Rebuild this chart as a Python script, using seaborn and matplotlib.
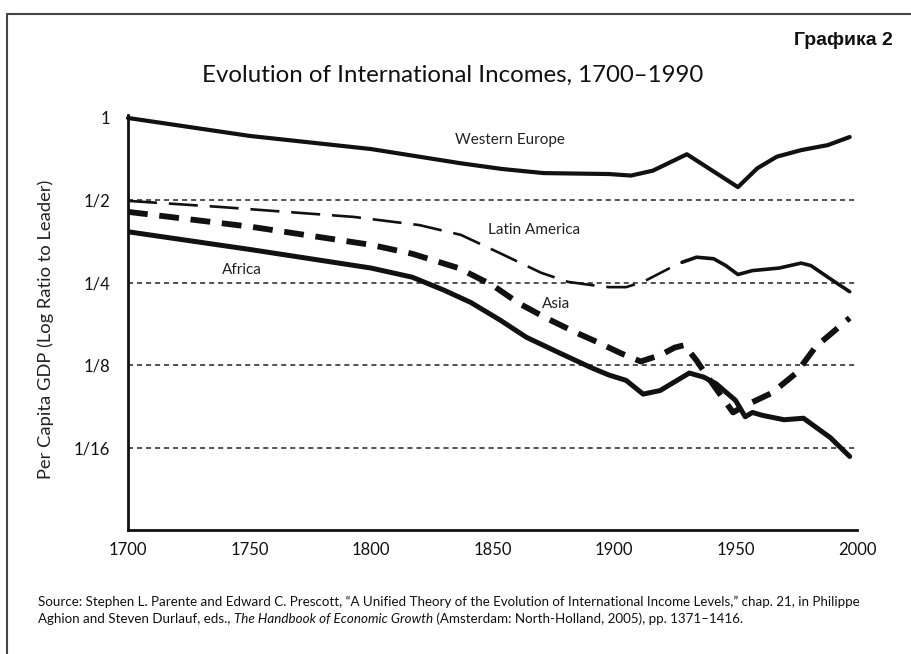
import numpy as np
import pandas as pd
import seaborn as sns
import matplotlib.pyplot as plt
from matplotlib.lines import Line2D
from matplotlib.ticker import FixedLocator, NullLocator

# ratio of per capita GDP to the leader
we_years = [1700, 1750, 1800, 1837, 1854, 1871, 1898, 1907, 1916, 1930, 1951, 1959, 1967, 1977, 1988, 1997]
we_ratio = [1.0, 0.86, 0.77, 0.683, 0.651, 0.629, 0.624, 0.616, 0.642, 0.737, 0.559, 0.655, 0.722, 0.763, 0.796, 0.852]

la_years = [1700, 1738, 1793, 1820, 1837, 1853, 1870, 1881, 1891, 1898, 1905, 1912, 1923,
            1928, 1934, 1941, 1946, 1951, 1957, 1968, 1977, 1981, 1990, 1997]
la_ratio = [0.498, 0.473, 0.435, 0.406, 0.374, 0.321, 0.272, 0.252, 0.245, 0.241, 0.241, 0.252, 0.283,
            0.297, 0.310, 0.306, 0.289, 0.268, 0.277, 0.283, 0.295, 0.289, 0.255, 0.232]

asia_years = [1700, 1751, 1800, 1817, 1836, 1850, 1861, 1872, 1884, 1893, 1903, 1911, 1919,
              1925, 1929, 1934, 1938, 1949, 1954, 1965, 1975, 1983, 1997]
asia_ratio = [0.454, 0.400, 0.344, 0.319, 0.283, 0.245, 0.210, 0.186, 0.165, 0.152, 0.138, 0.129, 0.136,
              0.145, 0.148, 0.130, 0.115, 0.084, 0.089, 0.099, 0.117, 0.146, 0.186]

af_years = [1700, 1751, 1800, 1817, 1830, 1841, 1853, 1864, 1878, 1891, 1898, 1905, 1912,
            1919, 1931, 1937, 1942, 1950, 1954, 1957, 1961, 1970, 1978, 1989, 1997]
af_ratio = [0.384, 0.330, 0.283, 0.262, 0.235, 0.212, 0.183, 0.158, 0.138, 0.122, 0.115, 0.110, 0.098,
            0.101, 0.117, 0.113, 0.107, 0.093, 0.081, 0.084, 0.082, 0.079, 0.080, 0.068, 0.058]

y_ticks = [1, 1/2, 1/4, 1/8, 1/16]
y_labels = ['1', '1/2', '1/4', '1/8', '1/16']
x_ticks = [1700, 1750, 1800, 1850, 1900, 1950, 2000]

sns.set_style('white')
plt.rcParams['font.family'] = ['Lato', 'DejaVu Sans']

fig = plt.figure(figsize=(9.11, 6.54), dpi=100)
ax = fig.add_axes([0.1405, 0.1896, 0.8002, 0.6338])
ax.set_yscale('log', base=2)

# dashed reference levels
ax.hlines(y_ticks[1:], 1700, 2000, colors='#222', lw=1.1, linestyles=(0, (3.3, 2.6)), zorder=1)

we = pd.DataFrame({'year': we_years, 'ratio': we_ratio})
la = pd.DataFrame({'year': la_years, 'ratio': la_ratio})
asia = pd.DataFrame({'year': asia_years, 'ratio': asia_ratio})
af = pd.DataFrame({'year': af_years, 'ratio': af_ratio})

sns.lineplot(data=we, x='year', y='ratio', ax=ax, color='#111', lw=3, clip_on=False)
sns.lineplot(data=la[la.year <= 1923], x='year', y='ratio', ax=ax, color='#111', lw=1.9,
             linestyle=(0, (11, 4.5)))
sns.lineplot(data=la[la.year >= 1928], x='year', y='ratio', ax=ax, color='#111', lw=2.6)
sns.lineplot(data=asia, x='year', y='ratio', ax=ax, color='#111', lw=4.2, linestyle=(0, (3.4, 2.0)))
sns.lineplot(data=af, x='year', y='ratio', ax=ax, color='#111', lw=3.6)

ax.text(1857, 0.83, 'Western Europe', ha='center', va='center', fontsize=11, color='#222')
ax.text(1867, 0.39, 'Latin America', ha='center', va='center', fontsize=11, color='#222')
ax.text(1747, 0.278, 'Africa', ha='center', va='center', fontsize=11, color='#222')
ax.text(1876, 0.209, 'Asia', ha='center', va='center', fontsize=11, color='#222')

ax.set_xlim(1700, 2000)
ax.set_ylim(1/32, 2 ** 0.03)
ax.yaxis.set_major_locator(FixedLocator(y_ticks))
ax.yaxis.set_minor_locator(NullLocator())
ax.set_yticklabels(y_labels)
ax.set_xticks(x_ticks)
ax.set_xlabel('')
ax.set_ylabel('')
ax.tick_params(axis='both', direction='inout', length=7, width=1.3, colors='#111', labelsize=12)
ax.tick_params(axis='y', length=8, pad=9)
ax.tick_params(axis='x', pad=5)
sns.despine(ax=ax)
for s in ['left', 'bottom']:
    ax.spines[s].set_color('#111')
    ax.spines[s].set_linewidth(2)

fig.text(0.05, 0.497, 'Per Capita GDP (Log Ratio to Leader)', rotation=90,
         ha='center', va='center', fontsize=13.2, color='#222')
fig.text(0.497, 0.885, 'Evolution of International Incomes, 1700\u20131990',
         ha='center', va='center', fontsize=17.3, color='#111')
fig.text(0.98, 0.938, 'Графика 2', ha='right', va='center', fontsize=14, fontweight='bold',
         family=['Liberation Sans', 'DejaVu Sans'], color='#111')

# source note
fs = 9.6
src1 = fig.text(0.042, 0.071, 'Source: Stephen L. Parente and Edward C. Prescott, \u201cA Unified Theory of the '
                'Evolution of International Income Levels,\u201d chap. 21, in Philippe',
                ha='left', va='bottom', fontsize=fs, color='#111')
src2 = fig.text(0.042, 0.045, 'Aghion and Steven Durlauf, eds., ', ha='left', va='bottom',
                fontsize=fs, color='#111')
src3 = ax.annotate('The Handbook of Economic Growth', xy=(1, 0), xycoords=src2, ha='left', va='bottom',
                   fontsize=fs, style='italic', color='#111', annotation_clip=False)
ax.annotate(' (Amsterdam: North-Holland, 2005), pp. 1371\u20131416.', xy=(1, 0), xycoords=src3,
            ha='left', va='bottom', fontsize=fs, color='#111', annotation_clip=False)

# page frame
fig.add_artist(Line2D([0.008, 1.0], [0.978, 0.978], transform=fig.transFigure, color='#444', lw=1.5))
fig.add_artist(Line2D([0.008, 0.008], [0.0, 0.978], transform=fig.transFigure, color='#444', lw=1.5))

fig.savefig('out.png', dpi=100)
